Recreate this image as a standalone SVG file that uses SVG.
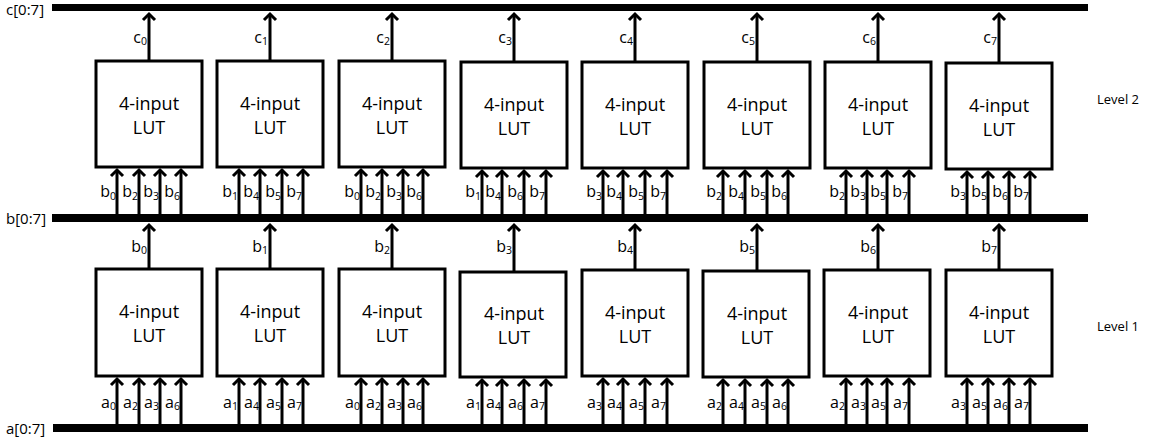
<svg xmlns="http://www.w3.org/2000/svg" width="1153" height="440" viewBox="0 0 1153 440">
<style>
.bus{fill:#000}
.box{fill:#fff;stroke:#000;stroke-width:3}
.w{stroke:#000;stroke-width:3;fill:none;marker-end:url(#ah)}
.t{font-family:"Open Sans","Liberation Sans",sans-serif;fill:#000}
.lut{font-size:18px;text-anchor:middle}
.lb{font-size:16px;text-anchor:end}
.bl{font-size:15px}
.lv{font-size:13px}
.s{font-size:10.5px}
</style>
<defs>
<marker id="ah" markerUnits="userSpaceOnUse" markerWidth="20" markerHeight="20" refX="0" refY="0" viewBox="-10 -10 20 20" orient="auto" overflow="visible">
<path d="M-6,-6 L0,0 L-6,6" fill="none" stroke="#000" stroke-width="3"/>
</marker>
</defs>
<g id="buses">
<rect class="bus" x="52" y="4" width="1036" height="7"/>
<rect class="bus" x="52" y="214" width="1036" height="8"/>
<rect class="bus" x="53" y="424" width="1035" height="8"/>
<text class="t bl" x="6" y="15">c[0:7]</text>
<text class="t bl" x="6" y="224">b[0:7]</text>
<text class="t bl" x="6" y="434">a[0:7]</text>
<text class="t lv" x="1097" y="104">Level 2</text>
<text class="t lv" x="1097" y="331">Level 1</text>
</g>
<g id="L2-1"><rect class="box" x="96" y="61" width="106" height="106"/><text class="t lut" x="149" y="110">4-input</text><text class="t lut" x="149" y="134">LUT</text></g>
<g id="L2-2"><rect class="box" x="217" y="61" width="106" height="106"/><text class="t lut" x="270" y="110">4-input</text><text class="t lut" x="270" y="134">LUT</text></g>
<g id="L2-3"><rect class="box" x="339" y="61" width="106" height="106"/><text class="t lut" x="392" y="110">4-input</text><text class="t lut" x="392" y="134">LUT</text></g>
<g id="L2-4"><rect class="box" x="461" y="62" width="106" height="106"/><text class="t lut" x="514" y="111">4-input</text><text class="t lut" x="514" y="135">LUT</text></g>
<g id="L2-5"><rect class="box" x="582" y="62" width="106" height="106"/><text class="t lut" x="635" y="111">4-input</text><text class="t lut" x="635" y="135">LUT</text></g>
<g id="L2-6"><rect class="box" x="704" y="62" width="106" height="106"/><text class="t lut" x="757" y="111">4-input</text><text class="t lut" x="757" y="135">LUT</text></g>
<g id="L2-7"><rect class="box" x="825" y="62" width="106" height="106"/><text class="t lut" x="878" y="111">4-input</text><text class="t lut" x="878" y="135">LUT</text></g>
<g id="L2-8"><rect class="box" x="946" y="63" width="106" height="106"/><text class="t lut" x="999" y="112">4-input</text><text class="t lut" x="999" y="136">LUT</text></g>
<g id="L1-1"><rect class="box" x="96" y="269" width="106" height="107"/><text class="t lut" x="149" y="318">4-input</text><text class="t lut" x="149" y="342">LUT</text></g>
<g id="L1-2"><rect class="box" x="217" y="269" width="106" height="107"/><text class="t lut" x="270" y="318">4-input</text><text class="t lut" x="270" y="342">LUT</text></g>
<g id="L1-3"><rect class="box" x="339" y="269" width="106" height="107"/><text class="t lut" x="392" y="318">4-input</text><text class="t lut" x="392" y="342">LUT</text></g>
<g id="L1-4"><rect class="box" x="460" y="272" width="106" height="105"/><text class="t lut" x="514" y="320">4-input</text><text class="t lut" x="514" y="344">LUT</text></g>
<g id="L1-5"><rect class="box" x="582" y="270" width="106" height="106"/><text class="t lut" x="635" y="319">4-input</text><text class="t lut" x="635" y="343">LUT</text></g>
<g id="L1-6"><rect class="box" x="703" y="271" width="106" height="106"/><text class="t lut" x="757" y="320">4-input</text><text class="t lut" x="757" y="344">LUT</text></g>
<g id="L1-7"><rect class="box" x="824" y="270" width="106" height="106"/><text class="t lut" x="878" y="319">4-input</text><text class="t lut" x="878" y="343">LUT</text></g>
<g id="L1-8"><rect class="box" x="946" y="270" width="106" height="106"/><text class="t lut" x="999" y="319">4-input</text><text class="t lut" x="999" y="343">LUT</text></g>
<g id="connectors">
<path class="w" d="M149,60V14"/><path class="w" d="M270,60V14"/><path class="w" d="M392,60V14"/><path class="w" d="M514,61V14"/><path class="w" d="M635,61V14"/><path class="w" d="M757,61V14"/><path class="w" d="M878,61V14"/><path class="w" d="M999,62V14"/>
<path class="w" d="M149,268V225"/><path class="w" d="M270,268V225"/><path class="w" d="M392,268V225"/><path class="w" d="M514,271V225"/><path class="w" d="M635,269V225"/><path class="w" d="M757,270V225"/><path class="w" d="M878,269V225"/><path class="w" d="M999,269V225"/>
<path class="w" d="M117,214V170"/><path class="w" d="M139,214V170"/><path class="w" d="M160,214V170"/><path class="w" d="M181,214V170"/>
<path class="w" d="M239,214V170"/><path class="w" d="M260,214V170"/><path class="w" d="M282,214V170"/><path class="w" d="M303,214V170"/>
<path class="w" d="M361,214V170"/><path class="w" d="M382,214V170"/><path class="w" d="M403,214V170"/><path class="w" d="M423,214V170"/>
<path class="w" d="M482,214V171"/><path class="w" d="M502,214V171"/><path class="w" d="M524,214V171"/><path class="w" d="M546,214V171"/>
<path class="w" d="M603,214V171"/><path class="w" d="M623,214V171"/><path class="w" d="M645,214V171"/><path class="w" d="M667,214V171"/>
<path class="w" d="M723,214V171"/><path class="w" d="M745,214V171"/><path class="w" d="M767,214V171"/><path class="w" d="M788,214V171"/>
<path class="w" d="M846,214V171"/><path class="w" d="M867,214V171"/><path class="w" d="M887,214V171"/><path class="w" d="M909,214V171"/>
<path class="w" d="M967,214V172"/><path class="w" d="M988,214V172"/><path class="w" d="M1009,214V172"/><path class="w" d="M1030,214V172"/>
<path class="w" d="M117,424V379"/><path class="w" d="M139,424V379"/><path class="w" d="M160,424V379"/><path class="w" d="M181,424V379"/>
<path class="w" d="M239,424V379"/><path class="w" d="M260,424V379"/><path class="w" d="M282,424V379"/><path class="w" d="M303,424V379"/>
<path class="w" d="M361,424V379"/><path class="w" d="M382,424V379"/><path class="w" d="M403,424V379"/><path class="w" d="M423,424V379"/>
<path class="w" d="M482,424V380"/><path class="w" d="M502,424V380"/><path class="w" d="M524,424V380"/><path class="w" d="M546,424V380"/>
<path class="w" d="M603,424V379"/><path class="w" d="M623,424V379"/><path class="w" d="M645,424V379"/><path class="w" d="M667,424V379"/>
<path class="w" d="M723,424V380"/><path class="w" d="M745,424V380"/><path class="w" d="M767,424V380"/><path class="w" d="M788,424V380"/>
<path class="w" d="M846,424V379"/><path class="w" d="M867,424V379"/><path class="w" d="M887,424V379"/><path class="w" d="M909,424V379"/>
<path class="w" d="M967,424V379"/><path class="w" d="M988,424V379"/><path class="w" d="M1009,424V379"/><path class="w" d="M1030,424V379"/>
</g>
<g id="labels">
<text class="t lb" x="147" y="43">c<tspan class="s" dy="2">0</tspan></text>
<text class="t lb" x="268" y="43">c<tspan class="s" dy="2">1</tspan></text>
<text class="t lb" x="390" y="43">c<tspan class="s" dy="2">2</tspan></text>
<text class="t lb" x="512" y="43">c<tspan class="s" dy="2">3</tspan></text>
<text class="t lb" x="633" y="43">c<tspan class="s" dy="2">4</tspan></text>
<text class="t lb" x="755" y="43">c<tspan class="s" dy="2">5</tspan></text>
<text class="t lb" x="876" y="43">c<tspan class="s" dy="2">6</tspan></text>
<text class="t lb" x="997" y="43">c<tspan class="s" dy="2">7</tspan></text>
<text class="t lb" x="147" y="252">b<tspan class="s" dy="2">0</tspan></text>
<text class="t lb" x="268" y="252">b<tspan class="s" dy="2">1</tspan></text>
<text class="t lb" x="390" y="252">b<tspan class="s" dy="2">2</tspan></text>
<text class="t lb" x="512" y="252">b<tspan class="s" dy="2">3</tspan></text>
<text class="t lb" x="633" y="252">b<tspan class="s" dy="2">4</tspan></text>
<text class="t lb" x="755" y="252">b<tspan class="s" dy="2">5</tspan></text>
<text class="t lb" x="876" y="252">b<tspan class="s" dy="2">6</tspan></text>
<text class="t lb" x="997" y="252">b<tspan class="s" dy="2">7</tspan></text>
<text class="t lb" x="116" y="197">b<tspan class="s" dy="3">0</tspan></text><text class="t lb" x="138" y="197">b<tspan class="s" dy="3">2</tspan></text><text class="t lb" x="159" y="197">b<tspan class="s" dy="3">3</tspan></text><text class="t lb" x="180" y="197">b<tspan class="s" dy="3">6</tspan></text>
<text class="t lb" x="238" y="197">b<tspan class="s" dy="3">1</tspan></text><text class="t lb" x="259" y="197">b<tspan class="s" dy="3">4</tspan></text><text class="t lb" x="281" y="197">b<tspan class="s" dy="3">5</tspan></text><text class="t lb" x="302" y="197">b<tspan class="s" dy="3">7</tspan></text>
<text class="t lb" x="360" y="197">b<tspan class="s" dy="3">0</tspan></text><text class="t lb" x="381" y="197">b<tspan class="s" dy="3">2</tspan></text><text class="t lb" x="402" y="197">b<tspan class="s" dy="3">3</tspan></text><text class="t lb" x="422" y="197">b<tspan class="s" dy="3">6</tspan></text>
<text class="t lb" x="481" y="197">b<tspan class="s" dy="3">1</tspan></text><text class="t lb" x="501" y="197">b<tspan class="s" dy="3">4</tspan></text><text class="t lb" x="523" y="197">b<tspan class="s" dy="3">6</tspan></text><text class="t lb" x="545" y="197">b<tspan class="s" dy="3">7</tspan></text>
<text class="t lb" x="602" y="197">b<tspan class="s" dy="3">3</tspan></text><text class="t lb" x="622" y="197">b<tspan class="s" dy="3">4</tspan></text><text class="t lb" x="644" y="197">b<tspan class="s" dy="3">5</tspan></text><text class="t lb" x="666" y="197">b<tspan class="s" dy="3">7</tspan></text>
<text class="t lb" x="722" y="197">b<tspan class="s" dy="3">2</tspan></text><text class="t lb" x="744" y="197">b<tspan class="s" dy="3">4</tspan></text><text class="t lb" x="766" y="197">b<tspan class="s" dy="3">5</tspan></text><text class="t lb" x="787" y="197">b<tspan class="s" dy="3">6</tspan></text>
<text class="t lb" x="845" y="197">b<tspan class="s" dy="3">2</tspan></text><text class="t lb" x="866" y="197">b<tspan class="s" dy="3">3</tspan></text><text class="t lb" x="886" y="197">b<tspan class="s" dy="3">5</tspan></text><text class="t lb" x="908" y="197">b<tspan class="s" dy="3">7</tspan></text>
<text class="t lb" x="966" y="197">b<tspan class="s" dy="3">3</tspan></text><text class="t lb" x="987" y="197">b<tspan class="s" dy="3">5</tspan></text><text class="t lb" x="1008" y="197">b<tspan class="s" dy="3">6</tspan></text><text class="t lb" x="1029" y="197">b<tspan class="s" dy="3">7</tspan></text>
<text class="t lb" x="116" y="408">a<tspan class="s" dy="2">0</tspan></text><text class="t lb" x="138" y="408">a<tspan class="s" dy="2">2</tspan></text><text class="t lb" x="159" y="408">a<tspan class="s" dy="2">3</tspan></text><text class="t lb" x="180" y="408">a<tspan class="s" dy="2">6</tspan></text>
<text class="t lb" x="238" y="408">a<tspan class="s" dy="2">1</tspan></text><text class="t lb" x="259" y="408">a<tspan class="s" dy="2">4</tspan></text><text class="t lb" x="281" y="408">a<tspan class="s" dy="2">5</tspan></text><text class="t lb" x="302" y="408">a<tspan class="s" dy="2">7</tspan></text>
<text class="t lb" x="360" y="408">a<tspan class="s" dy="2">0</tspan></text><text class="t lb" x="381" y="408">a<tspan class="s" dy="2">2</tspan></text><text class="t lb" x="402" y="408">a<tspan class="s" dy="2">3</tspan></text><text class="t lb" x="422" y="408">a<tspan class="s" dy="2">6</tspan></text>
<text class="t lb" x="481" y="408">a<tspan class="s" dy="2">1</tspan></text><text class="t lb" x="501" y="408">a<tspan class="s" dy="2">4</tspan></text><text class="t lb" x="523" y="408">a<tspan class="s" dy="2">6</tspan></text><text class="t lb" x="545" y="408">a<tspan class="s" dy="2">7</tspan></text>
<text class="t lb" x="602" y="408">a<tspan class="s" dy="2">3</tspan></text><text class="t lb" x="622" y="408">a<tspan class="s" dy="2">4</tspan></text><text class="t lb" x="644" y="408">a<tspan class="s" dy="2">5</tspan></text><text class="t lb" x="666" y="408">a<tspan class="s" dy="2">7</tspan></text>
<text class="t lb" x="722" y="408">a<tspan class="s" dy="2">2</tspan></text><text class="t lb" x="744" y="408">a<tspan class="s" dy="2">4</tspan></text><text class="t lb" x="766" y="408">a<tspan class="s" dy="2">5</tspan></text><text class="t lb" x="787" y="408">a<tspan class="s" dy="2">6</tspan></text>
<text class="t lb" x="845" y="408">a<tspan class="s" dy="2">2</tspan></text><text class="t lb" x="866" y="408">a<tspan class="s" dy="2">3</tspan></text><text class="t lb" x="886" y="408">a<tspan class="s" dy="2">5</tspan></text><text class="t lb" x="908" y="408">a<tspan class="s" dy="2">7</tspan></text>
<text class="t lb" x="966" y="408">a<tspan class="s" dy="2">3</tspan></text><text class="t lb" x="987" y="408">a<tspan class="s" dy="2">5</tspan></text><text class="t lb" x="1008" y="408">a<tspan class="s" dy="2">6</tspan></text><text class="t lb" x="1029" y="408">a<tspan class="s" dy="2">7</tspan></text>
</g>
</svg>
